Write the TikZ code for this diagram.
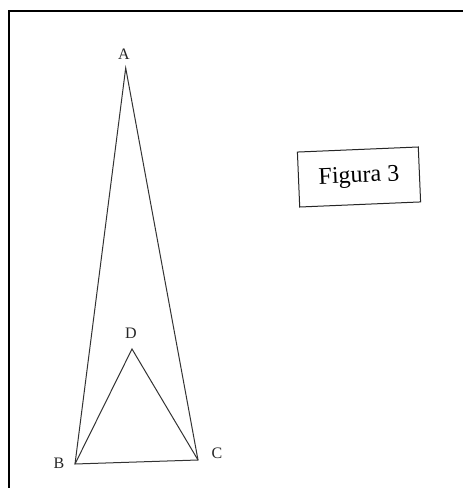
\documentclass[tikz,border=0pt]{standalone}
\usepackage{fontspec}
\setmainfont{Liberation Serif}
\begin{document}
\begin{tikzpicture}[x=1pt,y=1pt,
  edge/.style={draw=black!80,line width=1pt},
  vlabel/.style={font=\fontsize{16}{16}\selectfont,text=black!85,inner sep=0pt},
  frameline/.style={draw=black,line width=2pt}]
\useasboundingbox (0,0) rectangle (463,488);
\fill[white] (0,0) rectangle (463,488);
% frame
\coordinate (F1) at (8.5,0);
\coordinate (F2) at (8.5,477);
\coordinate (F3) at (463,477);
\draw[frameline] (F1) -- (F2) -- (F3);
% vertices
\coordinate (A) at (125.7,420);
\coordinate (B) at (75,24);
\coordinate (C) at (198,28);
\coordinate (D) at (132,139);
\draw[edge] (A) -- (B) -- (C) -- cycle;
\draw[edge] (B) -- (D) -- (C);
% labels
\node[vlabel] (lA) at (124,434) {A};
\node[vlabel] (lB) at (59,25) {B};
\node[vlabel] (lC) at (217,35) {C};
\node[vlabel] (lD) at (131,155) {D};
% figure box
\node[draw=black!85,line width=1pt,rotate=2.4,minimum width=121pt,minimum height=55pt,
  font=\fontsize{24}{24}\selectfont] (fig) at (359,311) {Figura 3};
\end{tikzpicture}
\end{document}
